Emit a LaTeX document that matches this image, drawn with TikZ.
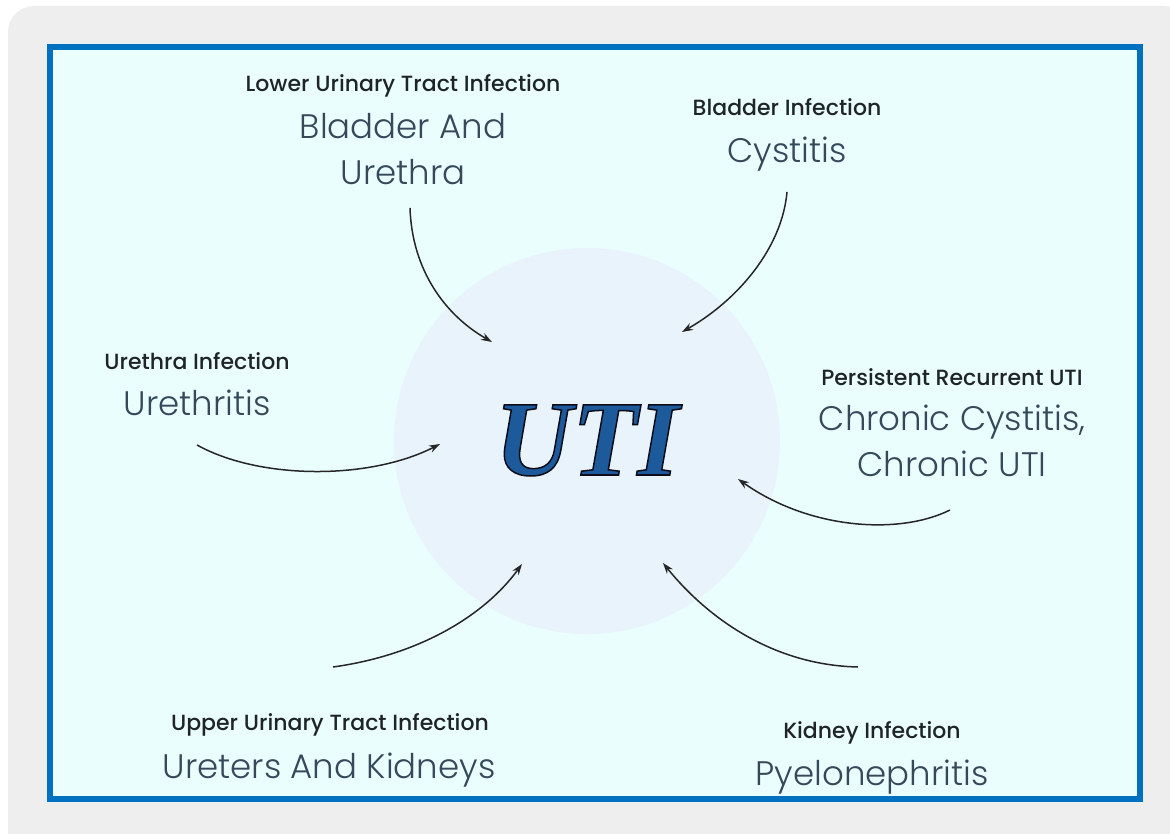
\documentclass[tikz,border=0pt]{standalone}
\usepackage{fontspec}
\setmainfont{Poppins}
\newfontfamily\lightfont{Poppins Light}
\newfontfamily\medfont{Poppins Medium}
\newfontface\utiface{Liberation Serif Bold Italic}[FakeBold=1.4]
\usetikzlibrary{arrows.meta}
\definecolor{pagegray}{HTML}{EEEEEE}
\definecolor{frameblue}{HTML}{0070C0}
\definecolor{innercyan}{HTML}{EBFEFE}
\definecolor{circfill}{HTML}{E8F3FC}
\definecolor{smallc}{HTML}{1F2429}
\definecolor{bigc}{HTML}{34495A}
\definecolor{utiblue}{HTML}{1D5A9B}
\begin{document}
\begin{tikzpicture}[x=1pt,y=-1pt,
  small/.style={font=\medfont\fontsize{22}{22}\selectfont, text=smallc, anchor=base, inner sep=0pt},
  big/.style={font=\lightfont\fontsize{34}{34}\selectfont, text=bigc, anchor=base, inner sep=0pt},
  utistyle/.style={font=\utiface\fontsize{107}{107}\selectfont, anchor=base, inner sep=0pt},
  arr/.style={-{Stealth[length=11pt,width=7.5pt]}, line width=1.5pt, draw=black!85}]
\useasboundingbox (0,0) rectangle (1170,834);
% page background
\fill[white] (0,0) rectangle (1170,834);
\fill[pagegray, rounded corners=26pt] (8,6) rectangle (1190,860);
% blue frame
\draw[frameblue, line width=6pt, fill=innercyan] (50,47) rectangle (1140,799);
% hub circle
\node[circle, fill=circfill, minimum size=386pt, inner sep=0pt] (hub) at (587,441) {};
% UTI text: blue fill, black stroke
\node[utistyle, text=utiblue] (uti) at (587,475) {\special{pdf:literal 0.05 0.05 0.1 RG}UTI};
% labels
\node[small] (l1a) at (403,92) {Lower Urinary Tract Infection};
\node[big] (l1b) at (403,139) {Bladder And};
\node[big] (l1c) at (403,185) {Urethra};
\node[small] (l2a) at (787,116) {Bladder Infection};
\node[big] (l2b) at (787,163) {Cystitis};
\node[small] (l3a) at (197,370) {Urethra Infection};
\node[big] (l3b) at (197,415) {Urethritis};
\node[small] (l4a) at (952,385) {Persistent Recurrent UTI};
\node[big] (l4b) at (952,430) {Chronic Cystitis,};
\node[big] (l4c) at (952,476) {Chronic UTI};
\node[small] (l5a) at (330,730) {Upper Urinary Tract Infection};
\node[big] (l5b) at (329,778) {Ureters And Kidneys};
\node[small] (l6a) at (872,738) {Kidney Infection};
\node[big] (l6b) at (872,785) {Pyelonephritis};
% arrow endpoints
\coordinate (s1) at (410,208);  \coordinate (e1) at (492,342);
\coordinate (s2) at (787,192);  \coordinate (e2) at (682,332);
\coordinate (s3) at (197,445);  \coordinate (e3) at (440,444);
\coordinate (s4) at (950,510);  \coordinate (e4) at (738,479);
\coordinate (s5) at (333,667);  \coordinate (e5) at (522,564);
\coordinate (s6) at (858,667);  \coordinate (e6) at (663,563);
\draw[arr] (s1) .. controls (412,270) and (445,315) .. (e1);
\draw[arr] (s2) .. controls (782,248) and (738,300) .. (e2);
\draw[arr] (s3) .. controls (260,480) and (370,480) .. (e3);
\draw[arr] (s4) .. controls (900,535) and (810,530) .. (e4);
\draw[arr] (s5) .. controls (420,655) and (485,615) .. (e5);
\draw[arr] (s6) .. controls (770,665) and (705,615) .. (e6);
\end{tikzpicture}
\end{document}
